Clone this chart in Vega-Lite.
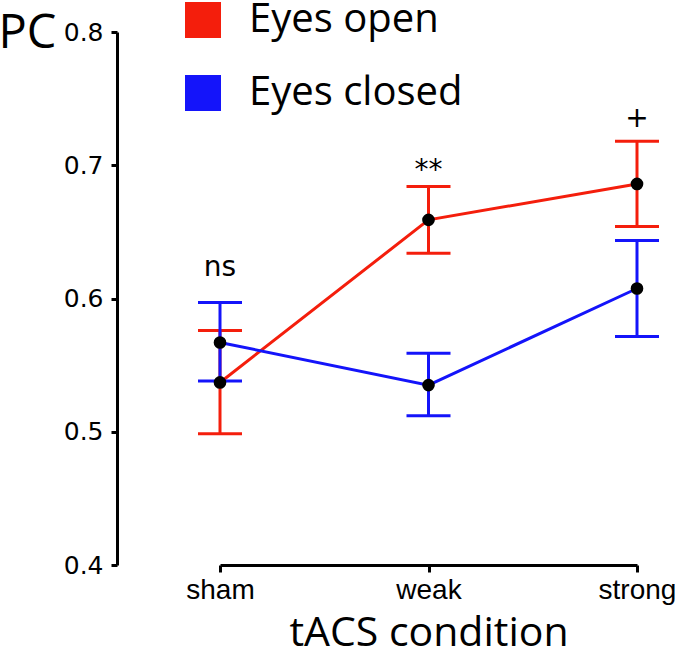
{
  "$schema": "https://vega.github.io/schema/vega-lite/v6.json",
  "width": 417,
  "height": 533,
  "autosize": {"type": "none"},
  "padding": {"left": 220, "top": 32, "right": 38, "bottom": 88},
  "background": "white",
  "config": {
    "view": {"stroke": null},
    "axis": {"domainColor": "black", "domainWidth": 3, "tickColor": "black", "tickWidth": 3, "labelColor": "black", "titleColor": "black", "grid": false},
    "legend": {"padding": 0},
    "tick": {"opacity": 1}
  },
  "datasets": {
    "pc": [
      {"cond": "sham", "group": "Eyes open", "mean": 0.537, "lo": 0.4985, "hi": 0.576},
      {"cond": "weak", "group": "Eyes open", "mean": 0.659, "lo": 0.634, "hi": 0.684},
      {"cond": "strong", "group": "Eyes open", "mean": 0.686, "lo": 0.654, "hi": 0.718},
      {"cond": "sham", "group": "Eyes closed", "mean": 0.567, "lo": 0.538, "hi": 0.597},
      {"cond": "weak", "group": "Eyes closed", "mean": 0.535, "lo": 0.512, "hi": 0.559},
      {"cond": "strong", "group": "Eyes closed", "mean": 0.6075, "lo": 0.5715, "hi": 0.6435}
    ],
    "notes": [
      {"cond": "sham", "label": "ns", "y": 0.617},
      {"cond": "weak", "label": "**", "y": 0.69},
      {"cond": "strong", "label": "+", "y": 0.729}
    ]
  },
  "data": {"name": "pc"},
  "encoding": {
    "x": {
      "field": "cond", "type": "ordinal",
      "scale": {"type": "point", "domain": ["sham", "weak", "strong"], "padding": 0},
      "axis": {
        "title": "tACS condition", "labelAngle": 0,
        "labelFont": "Liberation Sans", "labelFontSize": 28, "labelPadding": 4, "tickSize": 7,
        "titleFont": "Open Sans", "titleFontSize": 41, "titleFontWeight": "normal",
        "titleY": 80, "titleBaseline": "alphabetic"
      }
    }
  },
  "layer": [
    {
      "transform": [{"filter": "datum.group === 'Eyes open'"}],
      "layer": [
        {"mark": {"type": "rule", "strokeWidth": 3}, "encoding": {
          "y": {"field": "lo", "type": "quantitative", "scale": {"domain": [0.4, 0.8], "nice": false, "zero": false},
            "axis": {"title": "PC", "values": [0.4, 0.5, 0.6, 0.7, 0.8], "format": ".1f", "offset": 103, "tickSize": 6, "labelPadding": 8,
              "labelFont": "DejaVu Sans", "labelFontSize": 25, "titleFont": "Open Sans", "titleFontSize": 47, "titleFontWeight": "normal",
              "titleAngle": 0, "titleAlign": "left", "titleBaseline": "alphabetic", "titleX": -119, "titleY": 15}},
          "y2": {"field": "hi"},
          "color": {"field": "group", "type": "nominal", "scale": {"domain": ["Eyes open", "Eyes closed"], "range": ["#f41e0c", "#1414fa"]},
            "legend": {"title": null, "orient": "none", "legendX": -37, "legendY": -32, "symbolType": "square", "symbolSize": 1296,
              "symbolStrokeWidth": 0, "symbolOpacity": 1, "labelFont": "Open Sans", "labelFontSize": 40, "labelOffset": 26, "rowPadding": 33, "labelColor": "black", "labelLimit": 400}}}},
        {"mark": {"type": "tick", "size": 44, "thickness": 3, "opacity": 1}, "encoding": {"y": {"field": "lo", "type": "quantitative"}, "color": {"field": "group", "type": "nominal"}}},
        {"mark": {"type": "tick", "size": 44, "thickness": 3, "opacity": 1}, "encoding": {"y": {"field": "hi", "type": "quantitative"}, "color": {"field": "group", "type": "nominal"}}},
        {"mark": {"type": "line", "strokeWidth": 3}, "encoding": {"y": {"field": "mean", "type": "quantitative"}, "color": {"field": "group", "type": "nominal"}}}
      ]
    },
    {
      "transform": [{"filter": "datum.group === 'Eyes closed'"}],
      "layer": [
        {"mark": {"type": "rule", "strokeWidth": 3}, "encoding": {"y": {"field": "lo", "type": "quantitative"}, "y2": {"field": "hi"}, "color": {"field": "group", "type": "nominal"}}},
        {"mark": {"type": "tick", "size": 44, "thickness": 3, "opacity": 1}, "encoding": {"y": {"field": "lo", "type": "quantitative"}, "color": {"field": "group", "type": "nominal"}}},
        {"mark": {"type": "tick", "size": 44, "thickness": 3, "opacity": 1}, "encoding": {"y": {"field": "hi", "type": "quantitative"}, "color": {"field": "group", "type": "nominal"}}},
        {"mark": {"type": "line", "strokeWidth": 3}, "encoding": {"y": {"field": "mean", "type": "quantitative"}, "color": {"field": "group", "type": "nominal"}}}
      ]
    },
    {
      "mark": {"type": "point", "filled": true, "color": "black", "opacity": 1, "size": 160},
      "encoding": {"y": {"field": "mean", "type": "quantitative"}}
    },
    {
      "data": {"name": "notes"},
      "mark": {"type": "text", "font": "DejaVu Sans", "fontSize": 28, "baseline": "alphabetic", "align": "center", "color": "black"},
      "encoding": {"y": {"field": "y", "type": "quantitative"}, "text": {"field": "label"}}
    }
  ],
  "resolve": {"scale": {"y": "shared", "color": "shared"}}
}
